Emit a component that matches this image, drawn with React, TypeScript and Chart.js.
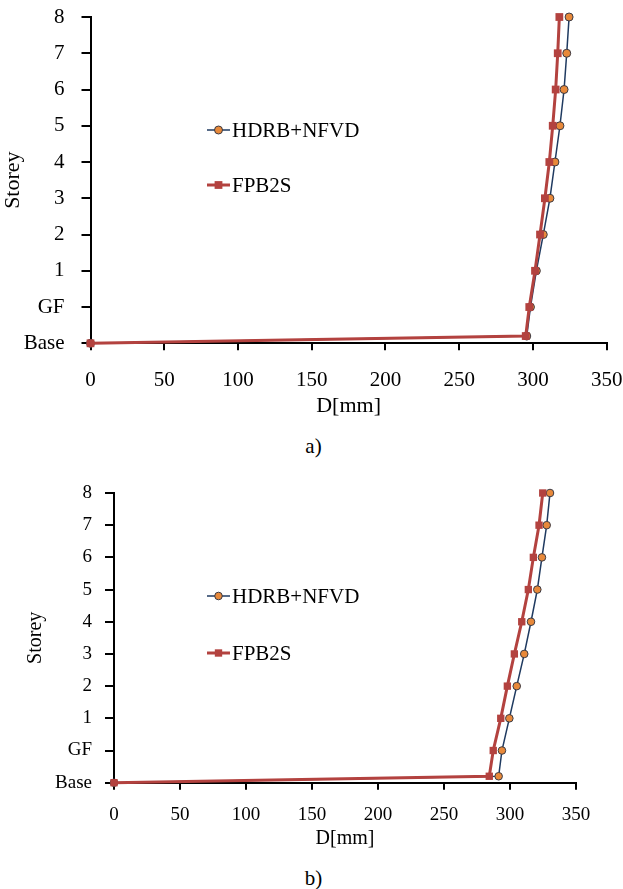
import React, { useEffect, useRef } from 'react';
import { Chart, registerables } from 'chart.js';

Chart.register(...registerables);

// ---- data ----
const storeyLabels = ['Base', 'GF', '1', '2', '3', '4', '5', '6', '7', '8'];
const levels = [0, 0.2, 1, 2, 3, 4, 5, 6, 7, 8, 9];
const seriesNames = ['HDRB+NFVD', 'FPB2S'];
const hdrbA = [0, 295.8, 298.3, 302.3, 307.0, 311.5, 314.9, 318.3, 321.1, 322.9, 324.5];
const fpbA = [0, 295.1, 297.5, 301.4, 304.8, 308.1, 311.1, 313.4, 315.4, 316.8, 317.9];
const hdrbB = [0, 291.4, 293.9, 299.5, 305.1, 310.8, 315.9, 320.7, 324.2, 327.8, 330.3];
const fpbB = [0, 284.3, 287.3, 293.0, 298.0, 303.3, 308.9, 313.9, 317.7, 322.0, 324.8];
const xMin = 0;
const xMax = 350;
const xStep = 50;

const FONT = '"Times New Roman", "Liberation Serif", serif';
const BLUE = '#1F3A60';
const ORANGE = '#E8893A';
const RED = '#B3423F';

const legendPlugin = {
  id: 'insideLegend',
  afterDraw(chart: any, _args: any, opts: any) {
    const ctx = chart.ctx;
    ctx.save();
    chart.data.datasets.forEach((ds: any, i: number) => {
      const y = opts.y0 + i * opts.dy;
      const x0 = opts.x0;
      const x1 = x0 + 23;
      ctx.strokeStyle = ds.borderColor;
      ctx.lineWidth = ds.borderWidth;
      ctx.beginPath();
      ctx.moveTo(x0, y);
      ctx.lineTo(x1, y);
      ctx.stroke();
      const cx = (x0 + x1) / 2;
      ctx.fillStyle = ds.pointBackgroundColor;
      ctx.strokeStyle = ds.pointBorderColor;
      ctx.lineWidth = ds.pointBorderWidth;
      if (ds.pointStyle === 'rect') {
        const s = ds.pointRadius * Math.SQRT1_2;
        ctx.fillRect(cx - s, y - s, 2 * s, 2 * s);
      } else {
        ctx.beginPath();
        ctx.arc(cx, y, ds.pointRadius, 0, Math.PI * 2);
        ctx.fill();
        ctx.stroke();
      }
      ctx.fillStyle = '#000';
      ctx.font = `${opts.fontSize}px ${FONT}`;
      ctx.textBaseline = 'middle';
      ctx.textAlign = 'left';
      ctx.fillText(ds.label, x1 + 2, y + 1);
    });
    ctx.restore();
  },
};

type Layout = {
  height: number;
  padTop: number;
  padRight: number;
  yWidth: number;
  xHeight: number;
  yTitlePad: number;
  xTitlePadBottom: number;
  tickFont: number;
  titleFont: number;
  yTickPad: number;
  xTickPad: number;
  circleR: number;
  squareR: number;
  legendX: number;
  legendY: number;
  legendDy: number;
};

function makeConfig(hdrb: number[], fpb: number[], L: Layout): any {
  return {
    type: 'line',
    data: {
      datasets: [
        {
          label: seriesNames[0],
          data: levels.map((y, i) => ({ x: hdrb[i], y })),
          borderColor: BLUE,
          borderWidth: 1.5,
          pointStyle: 'circle',
          pointRadius: L.circleR,
          pointBackgroundColor: ORANGE,
          pointBorderColor: '#3a3a44',
          pointBorderWidth: 1,
          order: 1,
          clip: false,
          tension: 0,
        },
        {
          label: seriesNames[1],
          data: levels.map((y, i) => ({ x: fpb[i], y })),
          borderColor: RED,
          borderWidth: 3,
          pointStyle: 'rect',
          pointRadius: L.squareR,
          pointBackgroundColor: RED,
          pointBorderColor: RED,
          pointBorderWidth: 0,
          order: 0,
          clip: false,
          tension: 0,
        },
      ],
    },
    options: {
      animation: false,
      responsive: false,
      maintainAspectRatio: false,
      layout: { padding: { top: L.padTop, right: L.padRight, left: 0, bottom: 0 } },
      plugins: {
        legend: { display: false },
        tooltip: { enabled: false },
        insideLegend: { x0: L.legendX, y0: L.legendY, dy: L.legendDy, fontSize: 21 },
      },
      scales: {
        x: {
          type: 'linear',
          min: xMin,
          max: xMax,
          ticks: {
            stepSize: xStep,
            color: '#000',
            font: { family: FONT, size: L.tickFont },
            padding: L.xTickPad,
            maxRotation: 0,
          },
          grid: { drawOnChartArea: false, drawTicks: true, tickLength: 7, color: '#000', lineWidth: 2 },
          border: { display: true, color: '#000', width: 2 },
          title: {
            display: true,
            text: 'D[mm]',
            color: '#000',
            font: { family: FONT, size: L.titleFont },
            padding: { top: 0, bottom: L.xTitlePadBottom },
          },
          afterFit: (s: any) => {
            s.height = L.xHeight;
            s.paddingLeft = 0;
            s.paddingRight = 0;
          },
        },
        y: {
          type: 'linear',
          min: 0,
          max: storeyLabels.length - 1,
          ticks: {
            stepSize: 1,
            color: '#000',
            font: { family: FONT, size: L.tickFont },
            padding: L.yTickPad,
            callback: (v: any) => storeyLabels[Math.round(v)] ?? '',
          },
          grid: { drawOnChartArea: false, drawTicks: true, tickLength: 9, color: '#000', lineWidth: 2 },
          border: { display: true, color: '#000', width: 2 },
          title: {
            display: true,
            text: 'Storey',
            color: '#000',
            font: { family: FONT, size: L.titleFont },
            padding: { top: L.yTitlePad, bottom: 0 },
          },
          afterFit: (s: any) => {
            s.width = L.yWidth;
            s.paddingTop = 0;
            s.paddingBottom = 0;
          },
        },
      },
    },
    plugins: [legendPlugin],
  };
}

function ChartPanel({ hdrb, fpb, L, top }: { hdrb: number[]; fpb: number[]; L: Layout; top: number }) {
  const ref = useRef<HTMLCanvasElement | null>(null);
  useEffect(() => {
    if (!ref.current) return;
    const chart = new Chart(ref.current, makeConfig(hdrb, fpb, L));
    return () => chart.destroy();
  }, []);
  return (
    <canvas
      ref={ref}
      width={623}
      height={L.height}
      style={{ position: 'absolute', left: 0, top, width: 623, height: L.height }}
    />
  );
}

const layoutA: Layout = {
  height: 425,
  padTop: 17,
  padRight: 16.3,
  yWidth: 90.5,
  xHeight: 81.7,
  yTitlePad: 0,
  xTitlePadBottom: 6,
  tickFont: 21,
  titleFont: 22,
  yTickPad: 17,
  xTickPad: 18,
  circleR: 4,
  squareR: 5.5,
  legendX: 207,
  legendY: 130,
  legendDy: 55,
};

const layoutB: Layout = {
  height: 395,
  padTop: 28,
  padRight: 47,
  yWidth: 114,
  xHeight: 77.3,
  yTitlePad: 24,
  xTitlePadBottom: 9,
  tickFont: 19,
  titleFont: 20,
  yTickPad: 13,
  xTickPad: 14,
  circleR: 3.8,
  squareR: 5.2,
  legendX: 207,
  legendY: 131,
  legendDy: 57,
};

const captionStyle: React.CSSProperties = {
  position: 'absolute',
  left: 0,
  width: 623,
  textAlign: 'center',
  fontFamily: FONT,
  fontSize: 21,
  lineHeight: '24px',
  color: '#000',
  paddingLeft: 2,
};

export default function App() {
  return (
    <div style={{ position: 'absolute', left: 0, top: 0, width: 623, height: 889, background: '#fff', overflow: 'hidden' }}>
      <ChartPanel hdrb={hdrbA} fpb={fpbA} L={layoutA} top={0} />
      <div style={{ ...captionStyle, top: 434 }}>a)</div>
      <ChartPanel hdrb={hdrbB} fpb={fpbB} L={layoutB} top={465} />
      <div style={{ ...captionStyle, top: 866 }}>b)</div>
    </div>
  );
}
